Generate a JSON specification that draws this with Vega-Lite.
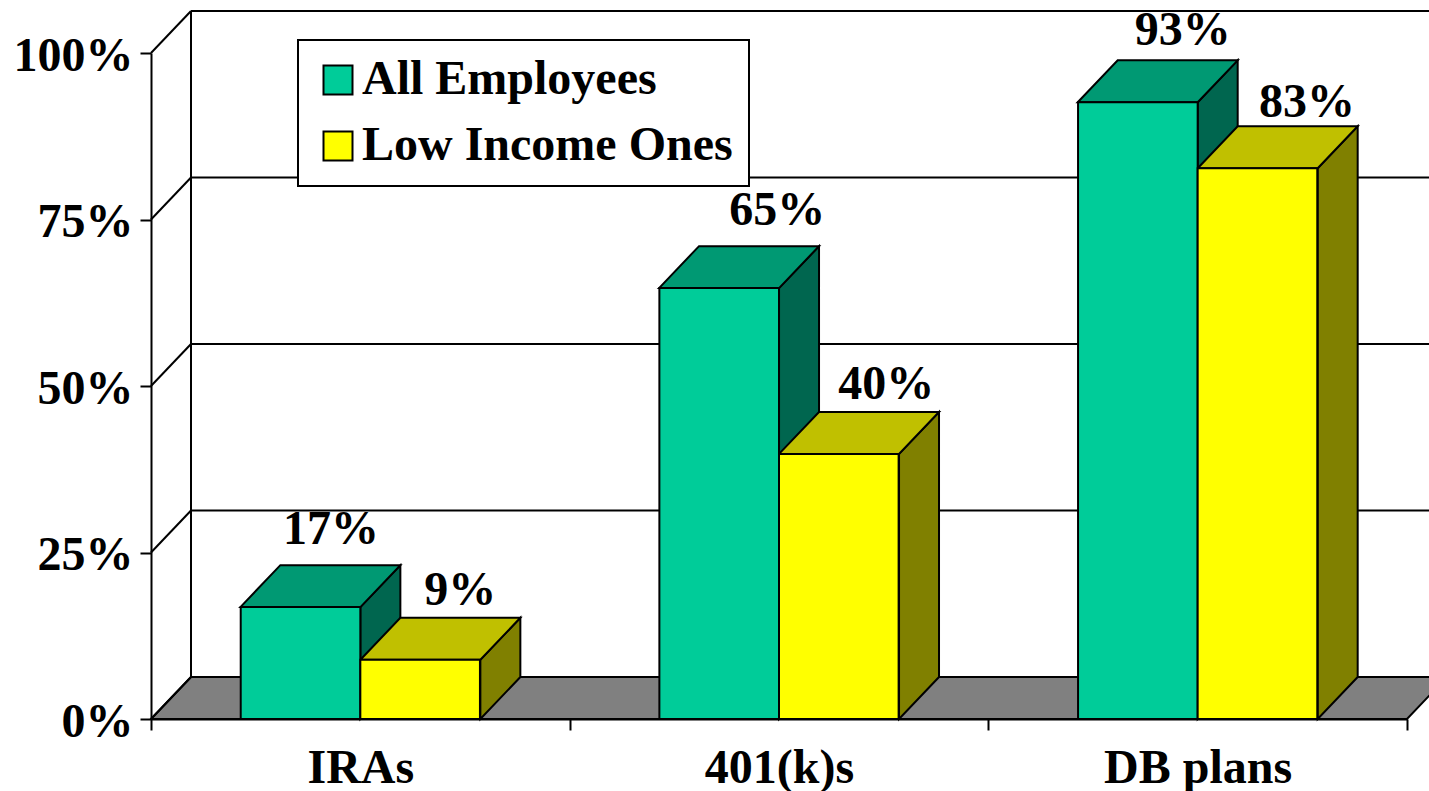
{
"$schema":"https://vega.github.io/schema/vega-lite/v6.json",
"width":1256,"height":666,
"autosize":{"type":"none"},
"padding":{"left":151,"top":53,"right":22,"bottom":72},
"background":"white",
"config":{"view":{"stroke":null},"legend":{"strokeWidth":2},"axis":{"grid":false}},
"datasets":{
"bars":[
{"group":"IRAs","series":"All Employees","value":16.8,"label":"17%"},
{"group":"IRAs","series":"Low Income Ones","value":8.9,"label":"9%"},
{"group":"401(k)s","series":"All Employees","value":64.7,"label":"65%"},
{"group":"401(k)s","series":"Low Income Ones","value":39.8,"label":"40%"},
{"group":"DB plans","series":"All Employees","value":92.6,"label":"93%"},
{"group":"DB plans","series":"Low Income Ones","value":82.7,"label":"83%"}
],
"ticks":[{"pct":0},{"pct":25},{"pct":50},{"pct":75},{"pct":100}],
"floor":[{"fx":0,"fy":0,"fy2":0},{"fx":0.0955,"fy":6.3,"fy2":0},{"fx":3,"fy":6.3,"fy2":0},{"fx":3.0955,"fy":6.3,"fy2":6.3}]
},
"resolve":{"scale":{"x":"independent","color":"independent"},"axis":{"x":"independent"}},
"layer":[
{"data":{"name":"floor"},
 "mark":{"type":"area","fill":"#808080","stroke":"black","strokeWidth":2,"clip":false},
 "encoding":{"x":{"field":"fx","type":"quantitative","axis":null,"scale":{"domain":[0,3],"nice":false,"zero":false}},
  "y":{"field":"fy","type":"quantitative","stack":null,"title":null,"scale":{"domain":[0,100],"nice":false},
   "axis":{"values":[0,25,50,75,100],"title":null,"labelExpr":"datum.value+'%'","labelFont":"Liberation Serif","labelFontWeight":"bold","labelFontSize":48,"labelColor":"black","labelPadding":7,"labelOffset":3,"tickSize":11,"tickWidth":2,"tickColor":"black","domainWidth":2,"domainColor":"black","grid":false}},
  "y2":{"field":"fy2"}}},
{"data":{"name":"ticks"},
 "transform":[{"filter":"datum.pct>0"}],
 "mark":{"type":"rule","stroke":"black","strokeWidth":2,"xOffset":40,"yOffset":-42,"clip":false},
 "encoding":{"x":{"datum":0,"type":"quantitative","axis":null,"scale":{"domain":[0,3],"nice":false,"zero":false}},"x2":{"datum":3.1},
  "y":{"field":"pct","type":"quantitative","title":null}}},
{"data":{"name":"ticks"},
 "mark":{"type":"point","shape":"M0 0L40 -42","size":4,"filled":false,"stroke":"black","strokeWidth":2,"opacity":1},
 "encoding":{"x":{"datum":0,"type":"quantitative","axis":null,"scale":{"domain":[0,3],"nice":false,"zero":false}},
  "y":{"field":"pct","type":"quantitative","title":null}}},
{"data":{"name":"ticks"},
 "transform":[{"filter":"datum.pct==0"}],
 "mark":{"type":"rule","stroke":"black","strokeWidth":2,"xOffset":40,"yOffset":-42,"y2Offset":-42},
 "encoding":{"x":{"datum":0,"type":"quantitative","axis":null,"scale":{"domain":[0,3],"nice":false,"zero":false}},
  "y":{"datum":0,"type":"quantitative","title":null},"y2":{"datum":100}}},
{"data":{"name":"bars"},
 "transform":[
 {"calculate":"indexof(['IRAs','401(k)s','DB plans'],datum.group)+0.2135+(datum.series==='All Employees'?0:0.2866)","as":"left"},
 {"calculate":"[0,1]","as":"v"},{"flatten":["v"]},
 {"calculate":"datum.left+0.2866+datum.v*0.0955","as":"px"},
 {"calculate":"datum.value+datum.v*6.3","as":"py"},
 {"calculate":"datum.v*6.3","as":"py2"}],
 "mark":{"type":"area","stroke":"black","strokeWidth":2,"opacity":1,"clip":false},
 "encoding":{"x":{"field":"px","type":"quantitative","axis":null,"scale":{"domain":[0,3],"nice":false,"zero":false}},
  "y":{"field":"py","type":"quantitative","stack":null,"title":null},"y2":{"field":"py2"},
  "detail":{"field":"group"},
  "color":{"field":"series","type":"nominal","legend":null,"scale":{"domain":["All Employees","Low Income Ones"],"range":["#00664F","#808000"]}}}},
{"data":{"name":"bars"},
 "transform":[
 {"calculate":"indexof(['IRAs','401(k)s','DB plans'],datum.group)+0.2135+(datum.series==='All Employees'?0:0.2866)","as":"left"},
 {"calculate":"[0,1,2,3]","as":"v"},{"flatten":["v"]},
 {"calculate":"datum.left+[0,0.0955,0.2866,0.3821][datum.v]","as":"px"},
 {"calculate":"datum.value+(datum.v>0?6.3:0)","as":"py"},
 {"calculate":"datum.value+(datum.v==3?6.3:0)","as":"py2"}],
 "mark":{"type":"area","stroke":"black","strokeWidth":2,"opacity":1,"clip":false},
 "encoding":{"x":{"field":"px","type":"quantitative","axis":null,"scale":{"domain":[0,3],"nice":false,"zero":false}},
  "y":{"field":"py","type":"quantitative","stack":null,"title":null},"y2":{"field":"py2"},
  "detail":{"field":"group"},
  "color":{"field":"series","type":"nominal","legend":null,"scale":{"domain":["All Employees","Low Income Ones"],"range":["#009973","#C0C000"]}}}},
{"data":{"name":"bars"},
 "mark":{"type":"bar","stroke":"black","strokeWidth":2,"opacity":1},
 "encoding":{
  "x":{"field":"group","type":"nominal","sort":["IRAs","401(k)s","DB plans"],"title":null,
   "scale":{"domain":["IRAs","401(k)s","DB plans"],"paddingInner":0,"paddingOuter":0},
   "axis":{"labelAngle":0,"labelFont":"Liberation Serif","labelFontWeight":"bold","labelFontSize":48,"labelColor":"black","labelLimit":0,"labelPadding":14,"tickBand":"extent","tickSize":11,"tickWidth":2,"tickColor":"black","domainWidth":2,"domainColor":"black","grid":false}},
  "xOffset":{"field":"series","type":"nominal","scale":{"domain":["All Employees","Low Income Ones"],"paddingInner":0,"paddingOuter":0.75}},
  "y":{"field":"value","type":"quantitative","title":null,"stack":null},
  "y2":{"datum":0},
  "color":{"field":"series","type":"nominal","title":null,
   "scale":{"domain":["All Employees","Low Income Ones"],"range":["#00CC99","#FFFF00"]},
   "legend":{"orient":"none","legendX":147,"legendY":-13,"title":null,"symbolType":"square","symbolSize":841,"symbolStrokeColor":"black","symbolStrokeWidth":2,"symbolOpacity":1,"labelFont":"Liberation Serif","labelFontWeight":"bold","labelFontSize":48,"labelColor":"black","labelLimit":500,"labelOffset":0,"rowPadding":18,"padding":16,"fillColor":"white","strokeColor":"black"}}}},
{"data":{"name":"bars"},"transform":[{"filter":"datum.label==='17%'"}],
 "mark":{"type":"text","font":"Liberation Serif","fontWeight":"bold","fontSize":48,"color":"black","baseline":"alphabetic","align":"center","dx":30.5,"dy":-63},
 "encoding":{"x":{"field":"group","type":"nominal","axis":null,"scale":{"domain":["IRAs","401(k)s","DB plans"],"paddingInner":0,"paddingOuter":0}},
  "xOffset":{"field":"series","type":"nominal","scale":{"domain":["All Employees","Low Income Ones"],"paddingInner":0,"paddingOuter":0.75}},
  "y":{"field":"value","type":"quantitative","title":null,"stack":null},"text":{"field":"label"}}},
{"data":{"name":"bars"},"transform":[{"filter":"datum.label==='9%'"}],
 "mark":{"type":"text","font":"Liberation Serif","fontWeight":"bold","fontSize":48,"color":"black","baseline":"alphabetic","align":"center","dx":40,"dy":-55},
 "encoding":{"x":{"field":"group","type":"nominal","axis":null,"scale":{"domain":["IRAs","401(k)s","DB plans"],"paddingInner":0,"paddingOuter":0}},
  "xOffset":{"field":"series","type":"nominal","scale":{"domain":["All Employees","Low Income Ones"],"paddingInner":0,"paddingOuter":0.75}},
  "y":{"field":"value","type":"quantitative","title":null,"stack":null},"text":{"field":"label"}}},
{"data":{"name":"bars"},"transform":[{"filter":"datum.label==='65%'"}],
 "mark":{"type":"text","font":"Liberation Serif","fontWeight":"bold","fontSize":48,"color":"black","baseline":"alphabetic","align":"center","dx":58,"dy":-63},
 "encoding":{"x":{"field":"group","type":"nominal","axis":null,"scale":{"domain":["IRAs","401(k)s","DB plans"],"paddingInner":0,"paddingOuter":0}},
  "xOffset":{"field":"series","type":"nominal","scale":{"domain":["All Employees","Low Income Ones"],"paddingInner":0,"paddingOuter":0.75}},
  "y":{"field":"value","type":"quantitative","title":null,"stack":null},"text":{"field":"label"}}},
{"data":{"name":"bars"},"transform":[{"filter":"datum.label==='40%'"}],
 "mark":{"type":"text","font":"Liberation Serif","fontWeight":"bold","fontSize":48,"color":"black","baseline":"alphabetic","align":"center","dx":47.5,"dy":-55},
 "encoding":{"x":{"field":"group","type":"nominal","axis":null,"scale":{"domain":["IRAs","401(k)s","DB plans"],"paddingInner":0,"paddingOuter":0}},
  "xOffset":{"field":"series","type":"nominal","scale":{"domain":["All Employees","Low Income Ones"],"paddingInner":0,"paddingOuter":0.75}},
  "y":{"field":"value","type":"quantitative","title":null,"stack":null},"text":{"field":"label"}}},
{"data":{"name":"bars"},"transform":[{"filter":"datum.label==='93%'"}],
 "mark":{"type":"text","font":"Liberation Serif","fontWeight":"bold","fontSize":48,"color":"black","baseline":"alphabetic","align":"center","dx":45,"dy":-57},
 "encoding":{"x":{"field":"group","type":"nominal","axis":null,"scale":{"domain":["IRAs","401(k)s","DB plans"],"paddingInner":0,"paddingOuter":0}},
  "xOffset":{"field":"series","type":"nominal","scale":{"domain":["All Employees","Low Income Ones"],"paddingInner":0,"paddingOuter":0.75}},
  "y":{"field":"value","type":"quantitative","title":null,"stack":null},"text":{"field":"label"}}},
{"data":{"name":"bars"},"transform":[{"filter":"datum.label==='83%'"}],
 "mark":{"type":"text","font":"Liberation Serif","fontWeight":"bold","fontSize":48,"color":"black","baseline":"alphabetic","align":"center","dx":49.5,"dy":-51},
 "encoding":{"x":{"field":"group","type":"nominal","axis":null,"scale":{"domain":["IRAs","401(k)s","DB plans"],"paddingInner":0,"paddingOuter":0}},
  "xOffset":{"field":"series","type":"nominal","scale":{"domain":["All Employees","Low Income Ones"],"paddingInner":0,"paddingOuter":0.75}},
  "y":{"field":"value","type":"quantitative","title":null,"stack":null},"text":{"field":"label"}}}
]
}
